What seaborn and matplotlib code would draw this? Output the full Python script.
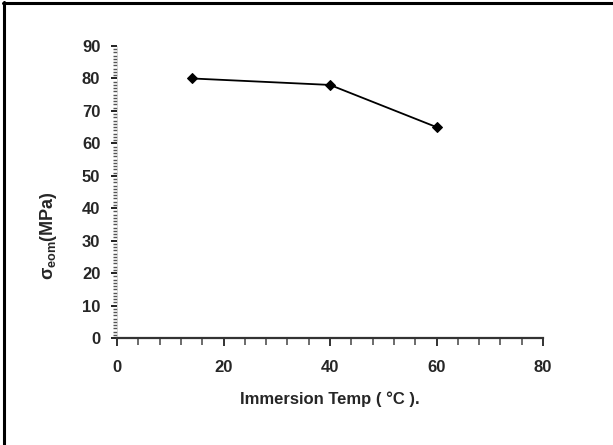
import matplotlib
matplotlib.use("Agg")
import matplotlib.pyplot as plt
import seaborn as sns
import pandas as pd
from matplotlib.ticker import MultipleLocator
from matplotlib.lines import Line2D

temps = [14, 40, 60]
stress = [80, 78, 65]
x_ticks = [0, 20, 40, 60, 80]
y_ticks = [0, 10, 20, 30, 40, 50, 60, 70, 80, 90]

sns.set_style("white")
plt.rcParams['font.family'] = ['Liberation Sans', 'DejaVu Sans']
plt.rcParams['mathtext.fontset'] = 'custom'
plt.rcParams['mathtext.rm'] = 'Liberation Sans:bold'
plt.rcParams['mathtext.it'] = 'Liberation Sans:bold'
plt.rcParams['mathtext.bf'] = 'Liberation Sans:bold'

df = pd.DataFrame({"temp": temps, "stress": stress})

fig = plt.figure(figsize=(6.13, 4.45), dpi=100)
ax = fig.add_axes([117/613, 1-338/445, 426/613, 292/445])

sns.lineplot(data=df, x="temp", y="stress", ax=ax, color="black", lw=1.3,
             marker="D", markersize=5, markeredgecolor="black", markerfacecolor="black")

ax.set_xlim(0, 80)
ax.set_ylim(0, 90)
ax.set_xticks(x_ticks)
ax.set_yticks(y_ticks)
ax.xaxis.set_minor_locator(MultipleLocator(4))
ax.yaxis.set_minor_locator(MultipleLocator(1))

for s in ["top", "right"]:
    ax.spines[s].set_visible(False)
ax.spines["bottom"].set_color("#333333")
ax.spines["bottom"].set_linewidth(1.6)
ax.spines["left"].set_color("#cccccc")
ax.spines["left"].set_linewidth(0.5)

ax.tick_params(axis="x", which="major", direction="out", length=6, width=1.3, color="#222222",
               labelsize=12, pad=10)
ax.tick_params(axis="x", which="minor", direction="out", length=5, width=1.1, color="#444444")
ax.tick_params(axis="y", which="major", direction="out", length=4, width=1.4, color="#222222",
               labelsize=12, pad=8)
ax.tick_params(axis="y", which="minor", direction="out", length=3, width=1.0, color="#555555")
ax.tick_params(left=True, bottom=True, which="both")

for lab in ax.get_xticklabels() + ax.get_yticklabels():
    lab.set_fontweight("bold")

ax.set_xlabel("Immersion Temp ( °C ).", fontsize=12, fontweight="bold", labelpad=12)
ax.set_ylabel(r"$\mathrm{\sigma}_{\mathrm{eom}}$(MPa)", fontsize=13, fontweight="bold")
ax.yaxis.set_label_coords(-0.135, 0.35)

# partial frame of the cropped figure (left and top edges)
fig.add_artist(Line2D([4/613, 4/613], [0, 1-2/445], transform=fig.transFigure, color="black", lw=2.2))
fig.add_artist(Line2D([3/613, 1], [1-3/445, 1-3/445], transform=fig.transFigure, color="black", lw=2.2))

fig.savefig("out.png", dpi=100)
